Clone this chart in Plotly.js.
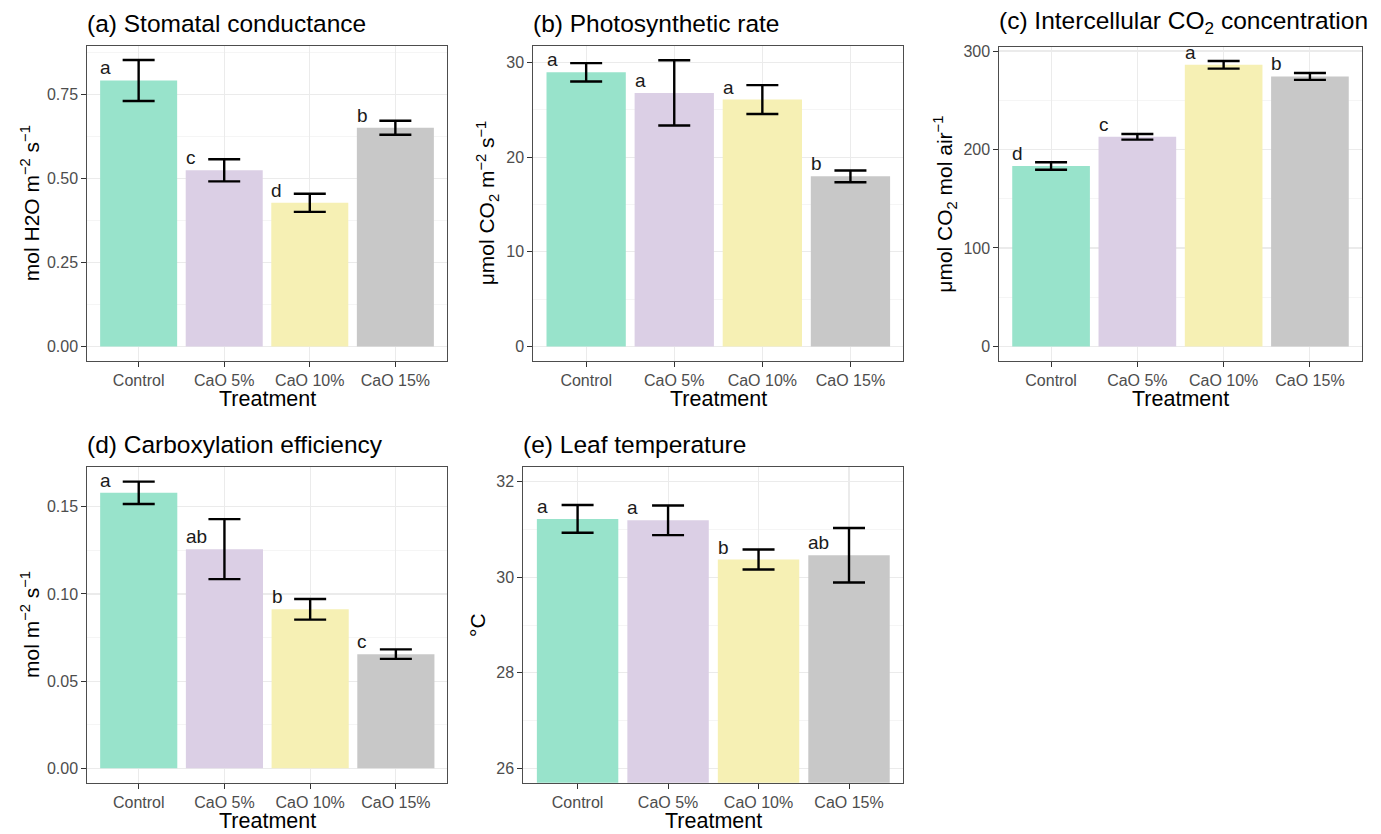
<!DOCTYPE html>
<html>
<head>
<meta charset="utf-8">
<script src="https://cdn.plot.ly/plotly-3.0.1.min.js"></script>
<style>html,body{margin:0;padding:0;background:#fff;}#chart{width:1381px;height:834px;}</style>
</head>
<body>
<div id="chart"></div>
<script>
// ---------- DATA ----------
const categories = ['Control', 'CaO 5%', 'CaO 10%', 'CaO 15%'];

const stomatalMean = [0.793, 0.525, 0.428, 0.652];
const stomatalSE   = [0.061, 0.033, 0.027, 0.021];
const stomatalLetters = ['a', 'c', 'd', 'b'];

const photoMean = [28.98, 26.80, 26.10, 17.98];
const photoSE   = [0.97, 3.45, 1.53, 0.62];
const photoLetters = ['a', 'a', 'a', 'b'];

const ciMean = [183.2, 212.9, 286.0, 274.2];
const ciSE   = [3.8, 2.9, 3.9, 3.5];
const ciLetters = ['d', 'c', 'a', 'b'];

const ceMean = [0.1580, 0.1257, 0.0912, 0.0655];
const ceSE   = [0.0064, 0.0172, 0.0059, 0.0027];
const ceLetters = ['a', 'ab', 'b', 'c'];

const ltMean = [31.22, 31.19, 30.37, 30.46];
const ltSE   = [0.29, 0.31, 0.21, 0.57];
const ltLetters = ['a', 'a', 'b', 'ab'];

const panelTitles = [
  '(a) Stomatal conductance',
  '(b) Photosynthetic rate',
  '(c) Intercellular CO<sub>2</sub> concentration',
  '(d) Carboxylation efficiency',
  '(e) Leaf temperature'
];
const yTitles = [
  'mol H2O m<sup>\u22122</sup> s<sup>\u22121</sup>',
  '\u03bcmol CO<sub>2</sub> m<sup>\u22122</sup> s<sup>\u22121</sup>',
  '\u03bcmol CO<sub>2</sub> mol air<sup>\u22121</sup>',
  'mol m<sup>\u22122</sup> s<sup>\u22121</sup>',
  '\u00b0C'
];
const xTitle = 'Treatment';

// ---------- STYLE / LAYOUT ----------
const W = 1381, H = 834;
const barColors = ['#98E3CB', '#DBCFE5', '#F6F0B4', '#C8C8C8'];
const FONT = 'Liberation Sans, Arial, Helvetica, sans-serif';

// panel boxes in pixels: [left, top, right, bottom]
const boxes = [
  [87.3, 45.7, 446.7, 360.7],
  [533.3, 46.0, 903.3, 360.7],
  [999.3, 46.7, 1361.7, 360.7],
  [87.3, 467.3, 447.3, 782.7],
  [523.3, 467.3, 903.3, 782.7]
];
const yTitleX = [30, 487, 945, 30, 477];

const panels = [
  {mean: stomatalMean, se: stomatalSE, letters: stomatalLetters, dtick: 0.25, fmt: '.2f'},
  {mean: photoMean, se: photoSE, letters: photoLetters, dtick: 10, fmt: 'd'},
  {mean: ciMean, se: ciSE, letters: ciLetters, dtick: 100, fmt: 'd'},
  {mean: ceMean, se: ceSE, letters: ceLetters, dtick: 0.05, fmt: '.2f'},
  {mean: ltMean, se: ltSE, letters: ltLetters, dtick: 2, fmt: 'd', fixedRange: [25.7, 32.3]}
];

const traces = [];
const layout = {
  width: W, height: H,
  margin: {l: 0, r: 0, t: 0, b: 0},
  paper_bgcolor: '#ffffff',
  plot_bgcolor: '#ffffff',
  showlegend: false,
  font: {family: FONT, color: '#000'},
  annotations: []
};

panels.forEach((p, k) => {
  const n = k + 1;
  const xa = 'xaxis' + (n === 1 ? '' : n);
  const ya = 'yaxis' + (n === 1 ? '' : n);
  const xr = 'x' + (n === 1 ? '' : n);
  const yr = 'y' + (n === 1 ? '' : n);
  const b = boxes[k];

  let range;
  if (p.fixedRange) {
    range = p.fixedRange;
  } else {
    const top = Math.max(...p.mean.map((m, i) => m + p.se[i]));
    range = [-0.05 * top, top * 1.05];
  }

  traces.push({
    type: 'bar',
    x: categories,
    y: p.mean,
    width: 0.9,
    marker: {color: barColors, line: {width: 0}},
    error_y: {type: 'data', array: p.se, visible: true, color: '#000', thickness: 2.4, width: 16},
    xaxis: xr, yaxis: yr,
    hoverinfo: 'x+y'
  });

  const common = {
    showline: true, mirror: true, linecolor: '#4d4d4d', linewidth: 1,
    ticks: 'outside', ticklen: 5, tickcolor: '#333333', tickwidth: 1,
    tickfont: {family: FONT, size: 16, color: '#4D4D4D'},
    gridcolor: '#EBEBEB', gridwidth: 1.1, showgrid: true,
    zeroline: false, fixedrange: true
  };

  layout[xa] = Object.assign({}, common, {
    type: 'category',
    range: [-0.6, 3.6],
    domain: [b[0] / W, b[2] / W],
    anchor: yr
  });
  layout[ya] = Object.assign({}, common, {
    range: range,
    dtick: p.dtick,
    tick0: 0,
    tickformat: p.fmt,
    domain: [1 - b[3] / H, 1 - b[1] / H],
    anchor: xr,
    minor: {dtick: p.dtick / 2, tick0: 0, showgrid: true, gridcolor: '#F1F1F1', gridwidth: 0.7, ticks: ''}
  });

  // significance letters
  p.letters.forEach((L, i) => {
    layout.annotations.push({
      xref: xr, yref: yr,
      x: i - 0.45, y: p.mean[i],
      text: L, showarrow: false,
      xanchor: 'left', yanchor: 'bottom',
      xshift: -2, yshift: 0,
      font: {family: FONT, size: 19, color: '#1a1a1a'}
    });
  });

  // panel title
  layout.annotations.push({
    xref: 'paper', yref: 'paper',
    x: b[0] / W, y: 1 - b[1] / H,
    text: panelTitles[k], showarrow: false,
    xanchor: 'left', yanchor: 'bottom',
    xshift: -2, yshift: 7,
    font: {family: FONT, size: 24.5, color: '#000'}
  });

  // x-axis title
  layout.annotations.push({
    xref: 'paper', yref: 'paper',
    x: (b[0] + b[2]) / 2 / W, y: 1 - (b[3] + 38) / H,
    text: xTitle, showarrow: false,
    xanchor: 'center', yanchor: 'middle', borderpad: 0,
    font: {family: FONT, size: 21.5, color: '#000'}
  });

  // y-axis title
  layout.annotations.push({
    xref: 'paper', yref: 'paper',
    x: yTitleX[k] / W, y: 1 - (b[1] + b[3]) / 2 / H,
    text: yTitles[k], showarrow: false, textangle: -90,
    xanchor: 'center', yanchor: 'middle',
    font: {family: FONT, size: 21, color: '#000'}
  });
});

Plotly.newPlot('chart', traces, layout, {staticPlot: true, displayModeBar: false});
</script>
</body>
</html>
